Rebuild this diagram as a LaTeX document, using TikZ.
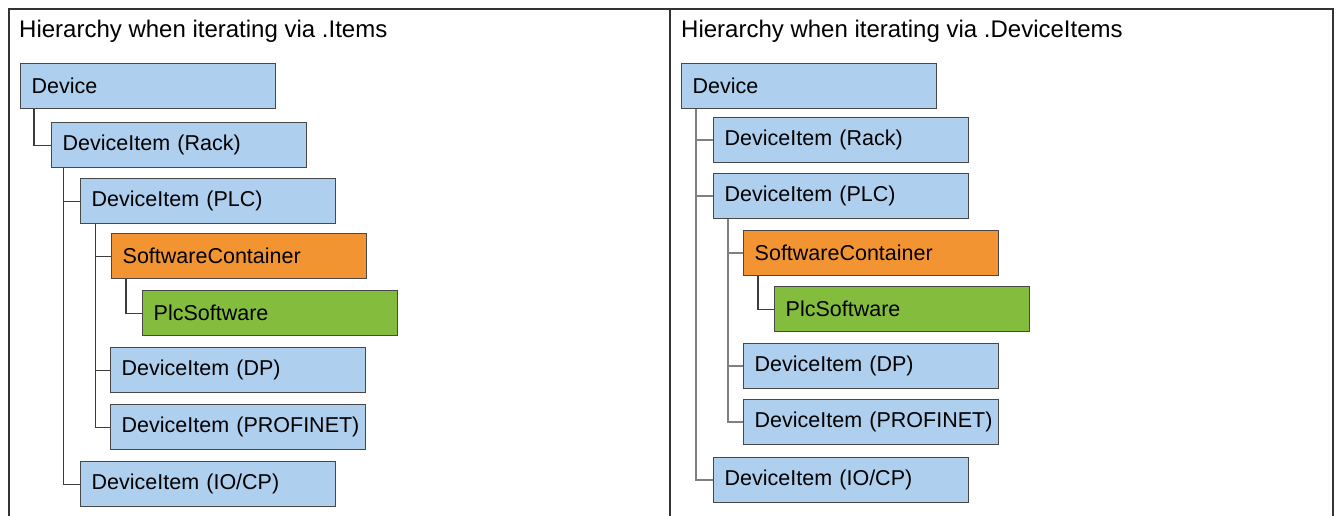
\documentclass[tikz,border=0pt]{standalone}
\usepackage{fontspec}
\setmainfont{Liberation Sans}
\definecolor{boxblue}{HTML}{AFCFEE}
\definecolor{boxorange}{HTML}{F39433}
\definecolor{boxgreen}{HTML}{84BC3D}
\definecolor{boxborder}{HTML}{484848}
\definecolor{frameline}{HTML}{333333}
\definecolor{linkdark}{HTML}{3C3C3C}
\definecolor{linkgray}{HTML}{808080}
\tikzset{
  item/.style={draw=boxborder, line width=1.4pt, anchor=north west, minimum height=45pt,
    text width=233pt, inner xsep=11pt, inner ysep=0pt, align=left,
    font=\fontsize{21.5}{25}\selectfont, text=black},
  bluebox/.style={item, fill=boxblue},
  orangebox/.style={item, fill=boxorange},
  greenbox/.style={item, fill=boxgreen},
  linkl/.style={draw=linkdark, line width=1.3pt},
  linkr/.style={draw=linkgray, line width=1.5pt},
  paneltitle/.style={anchor=base west, inner sep=0pt, font=\fontsize{24}{28}\selectfont},
  framestyle/.style={draw=frameline, line width=1.5pt}
}
\begin{document}
\begin{tikzpicture}[x=1pt, y=-1pt]
\useasboundingbox (0,0) rectangle (1338,515);
% frame
\draw[framestyle] (9,516) -- (9,9) -- (1333,9) -- (1333,516);
\draw[framestyle] (670,9) -- (670,516);
% titles
\node[paneltitle] (tl) at (19,37) {Hierarchy when iterating via .Items};
\node[paneltitle] (tr) at (681,37) {Hierarchy when iterating via .DeviceItems};
% left tree
\node[bluebox] (ldev) at (20,63) {Device};
\node[bluebox] (lrack) at (51,122) {DeviceItem (Rack)};
\node[bluebox] (lplc) at (80,178) {DeviceItem (PLC)};
\node[orangebox] (lsc) at (111,233) {SoftwareContainer};
\node[greenbox] (lsw) at (142,290) {PlcSoftware};
\node[bluebox] (ldp) at (110,347) {DeviceItem (DP)};
\node[bluebox] (lpn) at (110,404) {\mbox{DeviceItem (PROFINET)}};
\node[bluebox] (lio) at (80,461) {DeviceItem (IO/CP)};
\draw[linkl] ([xshift=14pt]ldev.south west) |- (lrack.west);
\draw[linkl] ([xshift=12.5pt]lrack.south west) |- (lplc.west);
\draw[linkl] ([xshift=12.5pt]lrack.south west) |- (lio.west);
\draw[linkl] ([xshift=15.5pt]lplc.south west) |- (lsc.west);
\draw[linkl] ([xshift=15.5pt]lplc.south west) |- (ldp.west);
\draw[linkl] ([xshift=15.5pt]lplc.south west) |- (lpn.west);
\draw[linkl] ([xshift=15pt]lsc.south west) |- (lsw.west);
% right tree
\node[bluebox] (rdev) at (681,63) {Device};
\node[bluebox] (rrack) at (713,117) {DeviceItem (Rack)};
\node[bluebox] (rplc) at (713,173) {DeviceItem (PLC)};
\node[orangebox] (rsc) at (743,230) {SoftwareContainer};
\node[greenbox] (rsw) at (774,286) {PlcSoftware};
\node[bluebox] (rdp) at (743,343) {DeviceItem (DP)};
\node[bluebox] (rpn) at (743,399) {\mbox{DeviceItem (PROFINET)}};
\node[bluebox] (rio) at (713,457) {DeviceItem (IO/CP)};
\draw[linkr] ([xshift=15pt]rdev.south west) |- (rrack.west);
\draw[linkr] ([xshift=15pt]rdev.south west) |- (rplc.west);
\draw[linkr] ([xshift=15pt]rdev.south west) |- (rio.west);
\draw[linkr] ([xshift=15pt]rplc.south west) |- (rsc.west);
\draw[linkr] ([xshift=15pt]rplc.south west) |- (rdp.west);
\draw[linkr] ([xshift=15pt]rplc.south west) |- (rpn.west);
\draw[linkl] ([xshift=15pt]rsc.south west) |- (rsw.west);
\end{tikzpicture}
\end{document}
